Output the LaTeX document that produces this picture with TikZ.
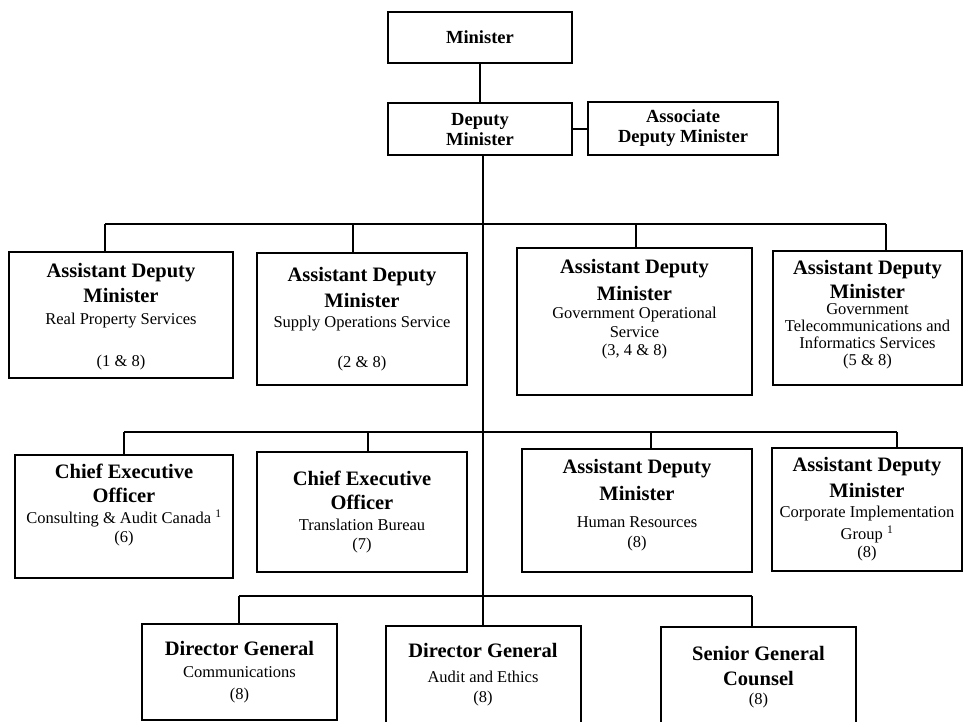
\documentclass[tikz,border=0pt]{standalone}
\usepackage{fontspec}
\setmainfont{Liberation Serif}
\newcommand{\posttitle}[1]{{\fontsize{20.5}{24}\selectfont\bfseries #1}}
\begin{document}
\begin{tikzpicture}[x=1pt,y=-1pt,line width=2pt,
    post/.style={draw,rectangle,align=center,inner sep=0pt,font=\fontsize{16.5}{18.5}\selectfont},
    toppost/.style={post,font=\fontsize{18.5}{20}\selectfont\bfseries}]
  \useasboundingbox (0,0) rectangle (967,722);
  % top of the chart
  \node[toppost,minimum width=184,minimum height=51] (min) at (480,37.5) {Minister};
  \node[toppost,minimum width=184,minimum height=52,text depth=-6pt] (dm) at (480,129) {Deputy\\Minister};
  \node[toppost,minimum width=190,minimum height=53] (assoc) at (683,128.5) {Associate\\Deputy Minister};
  % first row
  \node[post,minimum width=224,minimum height=126,text depth=-5pt] (adm1) at (121,315)
    {\posttitle{Assistant Deputy}\\[6pt]\posttitle{Minister}\\[3pt]Real Property Services\\[24pt](1 \& 8)};
  \node[post,minimum width=210,minimum height=132] (adm2) at (362,319)
    {\posttitle{Assistant Deputy}\\[6pt]\posttitle{Minister}\\[2pt]Supply Operations Service\\[21pt](2 \& 8)};
  \node[post,minimum width=235,minimum height=147,text depth=28pt] (adm3) at (634.5,321.5)
    {\posttitle{Assistant Deputy}\\[7pt]\posttitle{Minister}\\Government Operational\\Service\\(3, 4 \& 8)};
  \node[post,minimum width=189,minimum height=134,text depth=11pt] (adm4) at (867.5,318)
    {\posttitle{Assistant Deputy}\\[5pt]\posttitle{Minister}\\[-3pt]Government\\[-1.5pt]Telecommunications and\\[-1.5pt]Informatics Services\\[-1.5pt](5 \& 8)};
  % second row
  \node[post,minimum width=218,minimum height=123,text depth=26pt] (ceo1) at (124,516.5)
    {\posttitle{Chief Executive}\\[6pt]\posttitle{Officer}\\[2pt]Consulting \& Audit Canada \textsuperscript{1}\\[1pt](6)};
  \node[post,minimum width=210,minimum height=120] (ceo2) at (362,512)
    {\posttitle{Chief Executive}\\[5pt]\posttitle{Officer}\\[3pt]Translation Bureau\\(7)};
  \node[post,minimum width=230,minimum height=123,text depth=14pt] (hr) at (637,510.5)
    {\posttitle{Assistant Deputy}\\[7pt]\posttitle{Minister}\\[9pt]Human Resources\\[1pt](8)};
  \node[post,minimum width=190,minimum height=123] (cig) at (867,509.5)
    {\posttitle{Assistant Deputy}\\[6pt]\posttitle{Minister}\\[2pt]Corporate Implementation\\[3pt]Group \textsuperscript{1}\\(8)};
  % third row
  \node[post,minimum width=195,minimum height=96] (dgc) at (239.5,672)
    {\posttitle{Director General}\\[4pt]Communications\\[3pt](8)};
  \node[post,minimum width=195,minimum height=98] (dga) at (483,675)
    {\posttitle{Director General}\\[6pt]Audit and Ethics\\[2pt](8)};
  \node[post,minimum width=195,minimum height=97,text depth=-4.5pt] (sgc) at (758.5,675.5)
    {\posttitle{Senior General}\\[6pt]\posttitle{Counsel}\\[1pt](8)};
  % bus lines
  \coordinate (r1a) at (105,224);  \coordinate (r1b) at (353,224);
  \coordinate (r1c) at (636,224);  \coordinate (r1d) at (886,224);
  \coordinate (r2a) at (124,432);  \coordinate (r2b) at (368,432);
  \coordinate (r2c) at (651,432);  \coordinate (r2d) at (897,432);
  \coordinate (r3a) at (239,596);  \coordinate (r3c) at (752,596);
  \draw (min) -- (dm);
  \draw (dm.east) -- (dm.east -| assoc.west);
  \draw (dga.north |- dm.south) -- (dga.north);
  \draw (r1a) -- (r1d);
  \draw (r2a) -- (r2d);
  \draw (r3a) -- (r3c);
  \foreach \c/\n in {r1a/adm1,r1b/adm2,r1c/adm3,r1d/adm4,r2a/ceo1,r2b/ceo2,r2c/hr,r2d/cig,r3a/dgc,r3c/sgc}
    \draw (\c) -- (\c |- \n.north);
\end{tikzpicture}
\end{document}
